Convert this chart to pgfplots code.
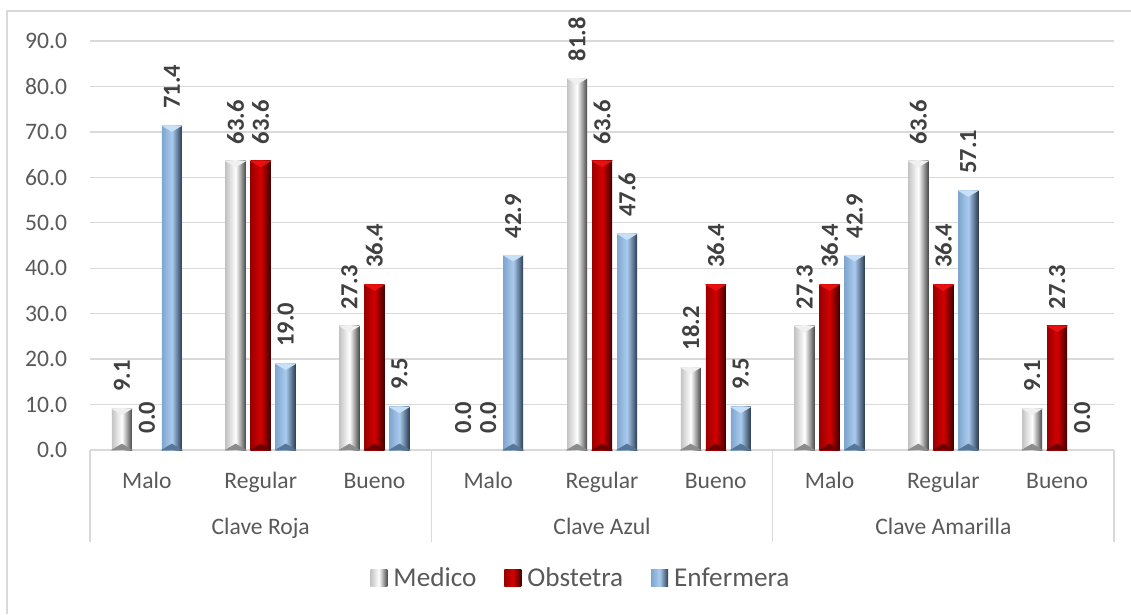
\documentclass[border=0pt]{standalone}
\usepackage{pgfplots}
\pgfplotsset{compat=1.18}
\usepackage{pgfplotstable}
\usepackage{fontspec}
\setmainfont{Carlito}
\definecolor{txt}{HTML}{595959}
\definecolor{lbl}{HTML}{404040}
\definecolor{grd}{HTML}{D9D9D9}
\definecolor{medL}{HTML}{C4C4C4}
\definecolor{medM}{HTML}{FFFFFF}
\definecolor{medR}{HTML}{4A4A4A}
\definecolor{medT}{HTML}{F0F0F0}
\definecolor{medB}{HTML}{8C8C8C}
\definecolor{obsL}{HTML}{9A0000}
\definecolor{obsM}{HTML}{D40000}
\definecolor{obsR}{HTML}{3F0000}
\definecolor{obsT}{HTML}{E81010}
\definecolor{obsB}{HTML}{6A0000}
\definecolor{enfL}{HTML}{7FA6CF}
\definecolor{enfM}{HTML}{AACBEE}
\definecolor{enfR}{HTML}{2B3D52}
\definecolor{enfT}{HTML}{C8E0F8}
\definecolor{enfB}{HTML}{5A7696}

\pgfplotstableread{
x med obs enf
0 9.1 0.0 71.4
1 63.6 63.6 19.0
2 27.3 36.4 9.5
3 0.0 0.0 42.9
4 81.8 63.6 47.6
5 18.2 36.4 9.5
6 27.3 36.4 42.9
7 63.6 36.4 57.1
8 9.1 27.3 0.0
}\data

\pgfplotsset{
  medfill/.style={draw=none, left color=medL, right color=medR, middle color=medM},
  obsfill/.style={draw=none, left color=obsL, right color=obsR, middle color=obsM},
  enffill/.style={draw=none, left color=enfL, right color=enfR, middle color=enfM},
  captop/.style 2 args={only marks, mark=triangle*, mark size=8.66pt, color=#1,
    unbounded coords=discard, y filter/.expression={y>0.05 ? y : nan},
    mark options={xshift=#2, yshift=-1.5pt, yscale=-0.346}},
  capbot/.style 2 args={only marks, mark=triangle*, mark size=8.66pt, color=#1,
    unbounded coords=discard, y filter/.expression={y>0.05 ? 0 : nan},
    mark options={xshift=#2, yshift=1.5pt, yscale=0.346}},
  geom/.style={at={(67.5pt,123pt)}, anchor=south west,
    scale only axis, width=768pt, height=306.75pt,
    xmin=-0.5, xmax=8.5, ymin=0, ymax=90, clip=false},
}

\begin{document}
\begin{tikzpicture}
\useasboundingbox (0,0) rectangle (848.25pt,460.5pt);
\draw[grd, line width=1pt] (5.25pt,0) -- (5.25pt,452.25pt) -- (848.25pt,452.25pt);
\begin{axis}[
  geom,
  axis line style={draw=none},
  major tick length=0pt,
  ytick={0,10,...,90},
  ymajorgrids, grid style={grd, line width=1pt},
  xtick={0,...,8},
  xticklabels={Malo,Regular,Bueno,Malo,Regular,Bueno,Malo,Regular,Bueno},
  /pgf/number format/assume math mode=true,
  yticklabel={\pgfmathprintnumber[fixed,fixed zerofill,precision=1]{\tick}},
  yticklabel style={anchor=east, inner sep=0pt, xshift=-17pt, text=txt, font=\fontsize{17.7}{20}\selectfont},
  xticklabel style={anchor=base, inner sep=0pt, yshift=-28.5pt, text=txt, font=\fontsize{17.7}{20}\selectfont},
  ybar, bar width=15pt,
  nodes near coords={\pgfmathprintnumber[fixed,fixed zerofill,precision=1]{\pgfplotspointmeta}},
  every node near coord/.append style={rotate=90, anchor=west, inner xsep=12.5pt, inner ysep=0pt, text=lbl, font=\fontsize{18.4}{20}\selectfont\bfseries},
  legend columns=-1,
  legend style={at={(rel axis cs:0.4785,-0.313)}, anchor=center, draw=none, fill=none,
    font=\fontsize{20.4}{24}\selectfont, text=txt,
    /tikz/every even column/.append style={column sep=21pt},
    inner sep=0pt, nodes={inner sep=0pt}},
  legend image code/.code={\path[#1] (0pt,-6.4pt) rectangle (12.75pt,6.4pt); \path (17.25pt,0pt);},
]
\pgfplotsinvokeforeach{0,...,8}{
  \addplot[medfill, bar shift=-18.75pt, forget plot, restrict x to domain=#1:#1] table[x=x,y=med]{\data};
  \addplot[obsfill, bar shift=0pt, forget plot, restrict x to domain=#1:#1] table[x=x,y=obs]{\data};
  \addplot[enffill, bar shift=18.75pt, forget plot, restrict x to domain=#1:#1] table[x=x,y=enf]{\data};
}
\addlegendimage{medfill}\addlegendentry{Medico}
\addlegendimage{obsfill}\addlegendentry{Obstetra}
\addlegendimage{enffill}\addlegendentry{Enfermera}
\foreach \s in {-0.5,2.5,5.5,8.5} {
  \edef\tmp{\noexpand\draw[grd, line width=1pt] (axis cs:\s,0) -- ++(0pt,-69pt);}\tmp
}
\node[anchor=base, inner sep=0pt, text=txt, font=\fontsize{17.7}{20}\selectfont] at ([yshift=-63pt]axis cs:1,0) {Clave Roja};
\node[anchor=base, inner sep=0pt, text=txt, font=\fontsize{17.7}{20}\selectfont] at ([yshift=-63pt]axis cs:4,0) {Clave Azul};
\node[anchor=base, inner sep=0pt, text=txt, font=\fontsize{17.7}{20}\selectfont] at ([yshift=-63pt]axis cs:7,0) {Clave Amarilla};
\end{axis}
\begin{axis}[geom, hide axis]
\addplot[captop={medT}{-18.75pt}] table[x=x,y=med]{\data};
\addplot[captop={obsT}{0pt}] table[x=x,y=obs]{\data};
\addplot[captop={enfT}{18.75pt}] table[x=x,y=enf]{\data};
\addplot[capbot={medB}{-18.75pt}] table[x=x,y=med]{\data};
\addplot[capbot={obsB}{0pt}] table[x=x,y=obs]{\data};
\addplot[capbot={enfB}{18.75pt}] table[x=x,y=enf]{\data};
\end{axis}
\end{tikzpicture}
\end{document}
